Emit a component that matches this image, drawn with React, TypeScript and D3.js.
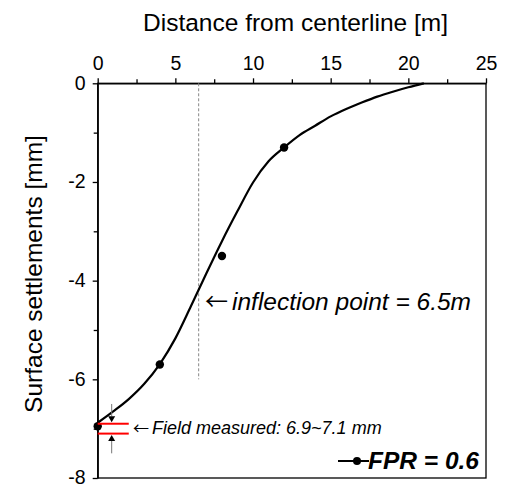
import React, { useEffect, useRef } from "react";
import * as d3 from "d3";

const pointX = [0, 4, 8, 12];
const pointY = [-6.95, -5.7, -3.5, -1.3];

const curveX = [0, 1, 2, 3, 4, 5, 6, 7, 8, 9, 10, 11, 12, 13, 14, 15, 16, 17, 18, 19, 20, 21];
const curveY = [-6.88, -6.65, -6.4, -6.09, -5.69, -5.17, -4.52, -3.85, -3.2, -2.59, -2.01, -1.58, -1.3, -1.05, -0.86, -0.67, -0.52, -0.39, -0.27, -0.17, -0.08, 0];

const xMajorTicks = [0, 5, 10, 15, 20, 25];
const xMinorTicks = [2.5, 7.5, 12.5, 17.5, 22.5];
const yMajorTicks = [0, -2, -4, -6, -8];
const yMinorTicks = [-1, -3, -5, -7];

const inflectionX = 6.5;
const inflectionBottom = -6;
const fieldRange = [-6.9, -7.1];

const FONT = "Arial, 'Liberation Sans', sans-serif";
const ARROW_FONT = "'Noto Sans CJK KR', 'Noto Sans CJK SC', 'DejaVu Sans', sans-serif";

export default function App() {
  const ref = useRef<SVGSVGElement>(null);
  useEffect(() => {
    const svg = d3.select(ref.current);
    svg.selectAll("*").remove();
    const left = 97.7, right = 486, top = 83.3, bottom = 478;
    const x = d3.scaleLinear().domain([0, 25]).range([left, right]);
    const y = d3.scaleLinear().domain([0, -8]).range([top, bottom]);

    // frame
    svg.append("rect").attr("x", left).attr("y", top).attr("width", right - left).attr("height", bottom - top)
      .attr("fill", "none").attr("stroke", "#000").attr("stroke-width", 1.3);

    // top axis
    const gx = svg.append("g").attr("transform", `translate(0,${top})`);
    gx.call(d3.axisTop(x).tickValues(xMajorTicks).tickSize(5).tickSizeOuter(0).tickFormat((d) => String(d)) as any);
    gx.select(".domain").attr("stroke-width", 1.3);
    gx.selectAll(".tick line").attr("stroke-width", 1.3);
    gx.selectAll(".tick text").attr("font-family", FONT).attr("font-size", 19.5).attr("fill", "#000").attr("y", -13).attr("dy", "0");
    const gxm = svg.append("g").attr("transform", `translate(0,${top})`);
    gxm.call(d3.axisTop(x).tickValues(xMinorTicks).tickSize(4).tickSizeOuter(0).tickFormat(() => "") as any);
    gxm.select(".domain").remove();
    gxm.selectAll(".tick line").attr("stroke-width", 1.3);

    // left axis
    const gy = svg.append("g").attr("transform", `translate(${left},0)`);
    gy.call(d3.axisLeft(y).tickValues(yMajorTicks).tickSize(5).tickSizeOuter(0).tickFormat((d) => String(d)) as any);
    gy.select(".domain").attr("stroke-width", 1.3);
    gy.selectAll(".tick line").attr("stroke-width", 1.3);
    gy.selectAll(".tick text").attr("font-family", FONT).attr("font-size", 19.5).attr("fill", "#000").attr("x", -12).attr("dy", "0.3em");
    const gym = svg.append("g").attr("transform", `translate(${left},0)`);
    gym.call(d3.axisLeft(y).tickValues(yMinorTicks).tickSize(4).tickSizeOuter(0).tickFormat(() => "") as any);
    gym.select(".domain").remove();
    gym.selectAll(".tick line").attr("stroke-width", 1.3);

    // axis titles
    svg.append("text").attr("x", 295.5).attr("y", 31).attr("text-anchor", "middle")
      .attr("font-family", FONT).attr("font-size", 24.5).text("Distance from centerline [m]");
    svg.append("text").attr("transform", `translate(42,274) rotate(-90)`).attr("text-anchor", "middle")
      .attr("font-family", FONT).attr("font-size", 24.5).text("Surface settlements [mm]");

    // inflection dashed line
    svg.append("line").attr("x1", x(inflectionX)).attr("x2", x(inflectionX)).attr("y1", y(0)).attr("y2", y(inflectionBottom))
      .attr("stroke", "#888").attr("stroke-dasharray", "3,2").attr("stroke-width", 1);

    // curve
    const line = d3.line<number>().x((_, i) => x(curveX[i])).y((d) => y(d)).curve(d3.curveMonotoneX);
    svg.append("path").attr("d", line(curveY)).attr("fill", "none").attr("stroke", "#000").attr("stroke-width", 2.2);

    // points
    svg.selectAll("circle.pt").data(pointY).enter().append("circle")
      .attr("cx", (_, i) => x(pointX[i])).attr("cy", (d) => y(d)).attr("r", 4.2).attr("fill", "#000");

    // field measured red lines
    fieldRange.forEach((v) => {
      svg.append("line").attr("x1", x(0)).attr("x2", x(2)).attr("y1", y(v)).attr("y2", y(v))
        .attr("stroke", "#ff0000").attr("stroke-width", 2);
    });
    // arrows
    const ax = x(0.9);
    svg.append("line").attr("x1", ax).attr("x2", ax).attr("y1", y(-6.5)).attr("y2", y(-6.75)).attr("stroke", "#777").attr("stroke-width", 1);
    svg.append("path").attr("d", `M${ax - 3.5},${y(-6.75)} L${ax + 3.5},${y(-6.75)} L${ax},${y(-6.87)} Z`).attr("fill", "#000");
    svg.append("line").attr("x1", ax).attr("x2", ax).attr("y1", y(-7.5)).attr("y2", y(-7.25)).attr("stroke", "#777").attr("stroke-width", 1);
    svg.append("path").attr("d", `M${ax - 3.5},${y(-7.25)} L${ax + 3.5},${y(-7.25)} L${ax},${y(-7.13)} Z`).attr("fill", "#000");

    const ft = svg.append("text").attr("x", 133).attr("y", 434).attr("font-family", FONT).attr("font-size", 18)
      .attr("font-style", "italic");
    ft.append("tspan").attr("font-family", ARROW_FONT).attr("font-style", "normal").attr("font-size", 16).text("\u2190");
    ft.append("tspan").attr("dx", 3).text("Field measured: 6.9~7.1 mm");

    const it = svg.append("text").attr("x", 205).attr("y", 310).attr("font-family", FONT).attr("font-size", 24.5)
      .attr("font-style", "italic");
    it.append("tspan").attr("font-family", ARROW_FONT).attr("font-style", "normal").attr("font-size", 23).text("\u2190");
    it.append("tspan").attr("dx", 4).text("inflection point = 6.5m");

    // legend
    svg.append("line").attr("x1", 338).attr("x2", 369).attr("y1", 461).attr("y2", 461).attr("stroke", "#000").attr("stroke-width", 2);
    svg.append("circle").attr("cx", 357).attr("cy", 461).attr("r", 4).attr("fill", "#000");
    svg.append("text").attr("x", 368).attr("y", 469).attr("font-family", FONT).attr("font-size", 24.5)
      .attr("font-style", "italic").attr("font-weight", "bold").text("FPR = 0.6");
  }, []);
  return (
    <svg ref={ref} width={506} height={485} style={{ position: "absolute", left: 0, top: 0, background: "#fff" }} />
  );
}
